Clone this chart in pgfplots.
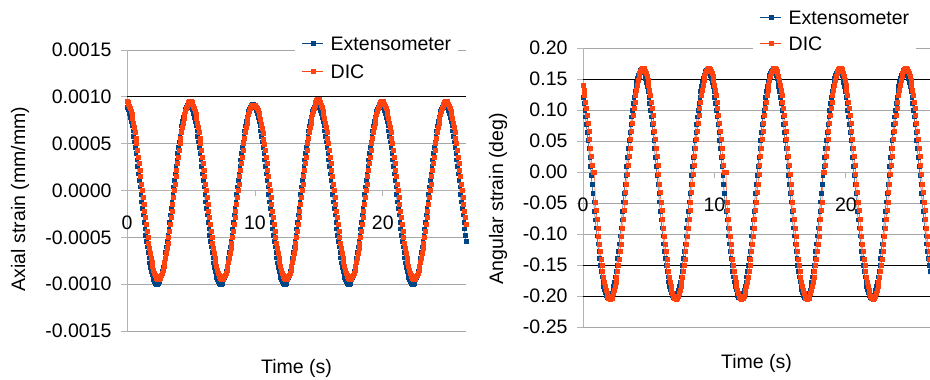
\documentclass[border=0pt]{standalone}
\usepackage{pgfplots}
\pgfplotsset{compat=1.18}
\usepackage{pgfplotstable}
\usepackage{fontspec}
\setmainfont{Liberation Sans}
\definecolor{extblue}{HTML}{004586}
\definecolor{dicor}{HTML}{FF420E}
\definecolor{gridg}{HTML}{A6A6A6}
\definecolor{axg}{HTML}{B3B3B3}
\pgfplotstableread{
t le ld re rd
0 0.00089 0.00095 0.121 0.140
0.0625 0.00087 0.00094 0.111 0.132
0.125 0.00085 0.00092 0.100 0.123
0.1875 0.00082 0.0009 0.089 0.113
0.25 0.00078 0.00088 0.077 0.103
0.3125 0.00074 0.00085 0.064 0.091
0.375 0.00069 0.00081 0.051 0.079
0.4375 0.00064 0.00077 0.038 0.066
0.5 0.00058 0.00072 0.024 0.053
0.5625 0.00052 0.00067 0.009 0.039
0.625 0.00046 0.00062 -0.005 0.025
0.6875 0.0004 0.00056 -0.020 0.011
0.75 0.00033 0.0005 -0.034 0
0.8125 0.00026 0.00043 -0.048 0
0.875 0.00018 0.00036 -0.063 0
0.9375 0.00011 0.00029 -0.077 -0.048
1 0.00004 0.00022 -0.090 -0.062
1.0625 -0.00004 0.00015 -0.103 -0.076
1.125 -0.00012 0.00007 -0.116 -0.090
1.1875 -0.00019 0 -0.128 -0.103
1.25 -0.00026 -0.00007 -0.139 -0.116
1.3125 -0.00034 -0.00015 -0.150 -0.128
1.375 -0.00041 -0.00022 -0.160 -0.140
1.4375 -0.00048 -0.00029 -0.169 -0.150
1.5 -0.00054 -0.00036 -0.177 -0.160
1.5625 -0.0006 -0.00043 -0.184 -0.169
1.625 -0.00066 -0.0005 -0.190 -0.178
1.6875 -0.00072 -0.00056 -0.195 -0.185
1.75 -0.00077 -0.00062 -0.199 -0.191
1.8125 -0.00082 -0.00067 -0.202 -0.196
1.875 -0.00086 -0.00072 -0.203 -0.200
1.9375 -0.0009 -0.00077 -0.204 -0.203
2 -0.00093 -0.00081 -0.203 -0.204
2.0625 -0.00095 -0.00085 -0.202 -0.205
2.125 -0.00097 -0.00088 -0.199 -0.204
2.1875 -0.00099 -0.0009 -0.195 -0.203
2.25 -0.001 -0.00092 -0.190 -0.200
2.3125 -0.001 -0.00094 -0.184 -0.196
2.375 -0.001 -0.00095 -0.177 -0.191
2.4375 -0.00099 -0.00095 -0.169 -0.185
2.5 -0.00097 -0.00095 -0.160 -0.178
2.5625 -0.00095 -0.00094 -0.150 -0.169
2.625 -0.00093 -0.00092 -0.139 -0.160
2.6875 -0.0009 -0.0009 -0.128 -0.150
2.75 -0.00086 -0.00088 -0.116 -0.140
2.8125 -0.00082 -0.00085 -0.103 -0.128
2.875 -0.00077 -0.00081 -0.090 -0.116
2.9375 -0.00072 -0.00077 -0.077 -0.103
3 -0.00066 -0.00072 -0.063 -0.090
3.0625 -0.0006 -0.00067 -0.048 -0.076
3.125 -0.00054 -0.00062 -0.034 -0.062
3.1875 -0.00048 -0.00056 -0.020 -0.048
3.25 -0.00041 -0.0005 -0.005 -0.033
3.3125 -0.00034 -0.00043 0.009 -0.019
3.375 -0.00026 -0.00036 0.024 -0.004
3.4375 -0.00019 -0.00029 0.038 0.011
3.5 -0.00012 -0.00022 0.051 0.025
3.5625 -0.00004 -0.00015 0.064 0.039
3.625 0.00004 -0.00007 0.077 0.053
3.6875 0.00011 0 0.089 0.066
3.75 0.00018 0.00007 0.100 0.079
3.8125 0.00026 0.00015 0.111 0.091
3.875 0.00033 0.00022 0.121 0.103
3.9375 0.0004 0.00029 0.130 0.113
4 0.00046 0.00036 0.138 0.123
4.0625 0.00052 0.00043 0.145 0.132
4.125 0.00058 0.0005 0.151 0.140
4.1875 0.00064 0.00056 0.156 0.148
4.25 0.00069 0.00062 0.160 0.154
4.3125 0.00074 0.00067 0.163 0.159
4.375 0.00078 0.00072 0.164 0.163
4.4375 0.00082 0.00077 0.165 0.166
4.5 0.00085 0.00081 0.164 0.167
4.5625 0.00087 0.00085 0.163 0.168
4.625 0.00089 0.00088 0.160 0.167
4.6875 0.00091 0.0009 0.156 0.166
4.75 0.00092 0.00092 0.151 0.163
4.8125 0.00092 0.00094 0.145 0.159
4.875 0.00092 0.00095 0.138 0.154
4.9375 0.00091 0.00095 0.130 0.148
5 0.00089 0.00095 0.121 0.140
5.0625 0.00087 0.00094 0.111 0.132
5.125 0.00085 0.00092 0.100 0.123
5.1875 0.00082 0.0009 0.089 0.113
5.25 0.00078 0.00088 0.077 0.103
5.3125 0.00074 0.00085 0.064 0.091
5.375 0.00069 0.00081 0.051 0.079
5.4375 0.00064 0.00077 0.038 0.066
5.5 0.00058 0.00072 0.024 0.053
5.5625 0.00052 0.00067 0.009 0.039
5.625 0.00046 0.00062 -0.005 0.025
5.6875 0.0004 0.00056 -0.020 0.011
5.75 0.00033 0.0005 -0.034 -0.004
5.8125 0.00026 0.00043 -0.048 -0.019
5.875 0.00018 0.00036 -0.063 -0.033
5.9375 0.00011 0.00029 -0.077 -0.048
6 0.00004 0.00022 -0.090 -0.062
6.0625 -0.00004 0.00015 -0.103 -0.076
6.125 -0.00012 0.00007 -0.116 -0.090
6.1875 -0.00019 0 -0.128 -0.103
6.25 -0.00026 -0.00007 -0.139 -0.116
6.3125 -0.00034 -0.00015 -0.150 -0.128
6.375 -0.00041 -0.00022 -0.160 -0.140
6.4375 -0.00048 -0.00029 -0.169 -0.150
6.5 -0.00054 -0.00036 -0.177 -0.160
6.5625 -0.0006 -0.00043 -0.184 -0.169
6.625 -0.00066 -0.0005 -0.190 -0.178
6.6875 -0.00072 -0.00056 -0.195 -0.185
6.75 -0.00077 -0.00062 -0.199 -0.191
6.8125 -0.00082 -0.00067 -0.202 -0.196
6.875 -0.00086 -0.00072 -0.203 -0.200
6.9375 -0.0009 -0.00077 -0.204 -0.203
7 -0.00093 -0.00081 -0.203 -0.204
7.0625 -0.00095 -0.00085 -0.202 -0.205
7.125 -0.00097 -0.00088 -0.199 -0.204
7.1875 -0.00099 -0.0009 -0.195 -0.203
7.25 -0.001 -0.00092 -0.190 -0.200
7.3125 -0.001 -0.00094 -0.184 -0.196
7.375 -0.001 -0.00095 -0.177 -0.191
7.4375 -0.00099 -0.00095 -0.169 -0.185
7.5 -0.00097 -0.00095 -0.160 -0.178
7.5625 -0.00095 -0.00094 -0.150 -0.169
7.625 -0.00093 -0.00092 -0.139 -0.160
7.6875 -0.0009 -0.0009 -0.128 -0.150
7.75 -0.00086 -0.00088 -0.116 -0.140
7.8125 -0.00082 -0.00085 -0.103 -0.128
7.875 -0.00077 -0.00081 -0.090 -0.116
7.9375 -0.00072 -0.00077 -0.077 -0.103
8 -0.00066 -0.00072 -0.063 -0.090
8.0625 -0.0006 -0.00067 -0.048 -0.076
8.125 -0.00054 -0.00062 -0.034 -0.062
8.1875 -0.00048 -0.00056 -0.020 -0.048
8.25 -0.00041 -0.0005 -0.005 -0.033
8.3125 -0.00034 -0.00043 0.009 -0.019
8.375 -0.00026 -0.00036 0.024 -0.004
8.4375 -0.00019 -0.00029 0.038 0.011
8.5 -0.00012 -0.00022 0.051 0.025
8.5625 -0.00004 -0.00015 0.064 0.039
8.625 0.00004 -0.00007 0.077 0.053
8.6875 0.00011 0 0.089 0.066
8.75 0.00018 0.00007 0.100 0.079
8.8125 0.00026 0.00015 0.111 0.091
8.875 0.00033 0.00022 0.121 0.103
8.9375 0.0004 0.00029 0.130 0.113
9 0.00046 0.00036 0.138 0.123
9.0625 0.00052 0.00043 0.145 0.132
9.125 0.00058 0.0005 0.151 0.140
9.1875 0.00064 0.00056 0.156 0.148
9.25 0.00069 0.00062 0.160 0.154
9.3125 0.00074 0.00067 0.163 0.159
9.375 0.00078 0.00072 0.164 0.163
9.4375 0.00082 0.00077 0.165 0.166
9.5 0.00085 0.00081 0.164 0.167
9.5625 0.00087 0.00085 0.163 0.168
9.625 0.00089 0.00088 0.160 0.167
9.6875 0.00091 0.0009 0.156 0.166
9.75 0.00092 0.00091 0.151 0.163
9.8125 0.00092 0.00091 0.145 0.159
9.875 0.00092 0.00091 0.138 0.154
9.9375 0.00091 0.00091 0.130 0.148
10 0.00089 0.00091 0.121 0.140
10.0625 0.00087 0.0009 0.111 0.132
10.125 0.00085 0.00089 0.100 0.123
10.1875 0.00082 0.00088 0.089 0.113
10.25 0.00078 0.00086 0.077 0.103
10.3125 0.00074 0.00083 0.064 0.091
10.375 0.00069 0.0008 0.051 0.079
10.4375 0.00064 0.00076 0.038 0.066
10.5 0.00058 0.00071 0.024 0.053
10.5625 0.00052 0.00066 0.009 0.039
10.625 0.00046 0.00061 -0.005 0.025
10.6875 0.0004 0.00055 -0.020 0.011
10.75 0.00033 0.00049 -0.034 0
10.8125 0.00026 0.00043 -0.048 0
10.875 0.00018 0.00036 -0.063 0
10.9375 0.00011 0.00029 -0.077 -0.048
11 0.00004 0.00022 -0.090 -0.062
11.0625 -0.00004 0.00015 -0.103 -0.076
11.125 -0.00012 0.00007 -0.116 -0.090
11.1875 -0.00019 0 -0.128 -0.103
11.25 -0.00026 -0.00007 -0.139 -0.116
11.3125 -0.00034 -0.00015 -0.150 -0.128
11.375 -0.00041 -0.00022 -0.160 -0.140
11.4375 -0.00048 -0.00029 -0.169 -0.150
11.5 -0.00054 -0.00036 -0.177 -0.160
11.5625 -0.0006 -0.00043 -0.184 -0.169
11.625 -0.00066 -0.0005 -0.190 -0.178
11.6875 -0.00072 -0.00056 -0.195 -0.185
11.75 -0.00077 -0.00062 -0.199 -0.191
11.8125 -0.00082 -0.00067 -0.202 -0.196
11.875 -0.00086 -0.00072 -0.203 -0.200
11.9375 -0.0009 -0.00077 -0.204 -0.203
12 -0.00093 -0.00081 -0.203 -0.204
12.0625 -0.00095 -0.00085 -0.202 -0.205
12.125 -0.00097 -0.00088 -0.199 -0.204
12.1875 -0.00099 -0.0009 -0.195 -0.203
12.25 -0.001 -0.00092 -0.190 -0.200
12.3125 -0.001 -0.00094 -0.184 -0.196
12.375 -0.001 -0.00095 -0.177 -0.191
12.4375 -0.00099 -0.00095 -0.169 -0.185
12.5 -0.00097 -0.00095 -0.160 -0.178
12.5625 -0.00095 -0.00094 -0.150 -0.169
12.625 -0.00093 -0.00092 -0.139 -0.160
12.6875 -0.0009 -0.0009 -0.128 -0.150
12.75 -0.00086 -0.00088 -0.116 -0.140
12.8125 -0.00082 -0.00085 -0.103 -0.128
12.875 -0.00077 -0.00081 -0.090 -0.116
12.9375 -0.00072 -0.00077 -0.077 -0.103
13 -0.00066 -0.00072 -0.063 -0.090
13.0625 -0.0006 -0.00067 -0.048 -0.076
13.125 -0.00054 -0.00062 -0.034 -0.062
13.1875 -0.00048 -0.00056 -0.020 -0.048
13.25 -0.00041 -0.0005 -0.005 -0.033
13.3125 -0.00034 -0.00043 0.009 -0.019
13.375 -0.00026 -0.00036 0.024 -0.004
13.4375 -0.00019 -0.00029 0.038 0.011
13.5 -0.00012 -0.00022 0.051 0.025
13.5625 -0.00004 -0.00015 0.064 0.039
13.625 0.00004 -0.00007 0.077 0.053
13.6875 0.00011 0 0.089 0.066
13.75 0.00018 0.00007 0.100 0.079
13.8125 0.00026 0.00015 0.111 0.091
13.875 0.00033 0.00022 0.121 0.103
13.9375 0.0004 0.00029 0.130 0.113
14 0.00046 0.00036 0.138 0.123
14.0625 0.00052 0.00043 0.145 0.132
14.125 0.00058 0.0005 0.151 0.140
14.1875 0.00064 0.00056 0.156 0.148
14.25 0.00069 0.00062 0.160 0.154
14.3125 0.00074 0.00067 0.163 0.159
14.375 0.00078 0.00072 0.164 0.163
14.4375 0.00082 0.00077 0.165 0.166
14.5 0.00085 0.00081 0.164 0.167
14.5625 0.00087 0.00085 0.163 0.168
14.625 0.00089 0.00088 0.160 0.167
14.6875 0.00091 0.00091 0.156 0.166
14.75 0.00092 0.00094 0.151 0.163
14.8125 0.00092 0.00096 0.145 0.159
14.875 0.00092 0.00097 0.138 0.154
14.9375 0.00091 0.00097 0.130 0.148
15 0.00089 0.00097 0.121 0.140
15.0625 0.00087 0.00096 0.111 0.132
15.125 0.00085 0.00094 0.100 0.123
15.1875 0.00082 0.00091 0.089 0.113
15.25 0.00078 0.00089 0.077 0.103
15.3125 0.00074 0.00085 0.064 0.091
15.375 0.00069 0.00081 0.051 0.079
15.4375 0.00064 0.00077 0.038 0.066
15.5 0.00058 0.00072 0.024 0.053
15.5625 0.00052 0.00067 0.009 0.039
15.625 0.00046 0.00062 -0.005 0.025
15.6875 0.0004 0.00056 -0.020 0.011
15.75 0.00033 0.0005 -0.034 -0.004
15.8125 0.00026 0.00043 -0.048 -0.019
15.875 0.00018 0.00036 -0.063 -0.033
15.9375 0.00011 0.00029 -0.077 -0.048
16 0.00004 0.00022 -0.090 -0.062
16.0625 -0.00004 0.00015 -0.103 -0.076
16.125 -0.00012 0.00007 -0.116 -0.090
16.1875 -0.00019 0 -0.128 -0.103
16.25 -0.00026 -0.00007 -0.139 -0.116
16.3125 -0.00034 -0.00015 -0.150 -0.128
16.375 -0.00041 -0.00022 -0.160 -0.140
16.4375 -0.00048 -0.00029 -0.169 -0.150
16.5 -0.00054 -0.00036 -0.177 -0.160
16.5625 -0.0006 -0.00043 -0.184 -0.169
16.625 -0.00066 -0.0005 -0.190 -0.178
16.6875 -0.00072 -0.00056 -0.195 -0.185
16.75 -0.00077 -0.00062 -0.199 -0.191
16.8125 -0.00082 -0.00067 -0.202 -0.196
16.875 -0.00086 -0.00072 -0.203 -0.200
16.9375 -0.0009 -0.00077 -0.204 -0.203
17 -0.00093 -0.00081 -0.203 -0.204
17.0625 -0.00095 -0.00085 -0.202 -0.205
17.125 -0.00097 -0.00088 -0.199 -0.204
17.1875 -0.00099 -0.0009 -0.195 -0.203
17.25 -0.001 -0.00092 -0.190 -0.200
17.3125 -0.001 -0.00094 -0.184 -0.196
17.375 -0.001 -0.00095 -0.177 -0.191
17.4375 -0.00099 -0.00095 -0.169 -0.185
17.5 -0.00097 -0.00095 -0.160 -0.178
17.5625 -0.00095 -0.00094 -0.150 -0.169
17.625 -0.00093 -0.00092 -0.139 -0.160
17.6875 -0.0009 -0.0009 -0.128 -0.150
17.75 -0.00086 -0.00088 -0.116 -0.140
17.8125 -0.00082 -0.00085 -0.103 -0.128
17.875 -0.00077 -0.00081 -0.090 -0.116
17.9375 -0.00072 -0.00077 -0.077 -0.103
18 -0.00066 -0.00072 -0.063 -0.090
18.0625 -0.0006 -0.00067 -0.048 -0.076
18.125 -0.00054 -0.00062 -0.034 -0.062
18.1875 -0.00048 -0.00056 -0.020 -0.048
18.25 -0.00041 -0.0005 -0.005 0
18.3125 -0.00034 -0.00043 0.009 0
18.375 -0.00026 -0.00036 0.024 0
18.4375 -0.00019 -0.00029 0.038 0.011
18.5 -0.00012 -0.00022 0.051 0.025
18.5625 -0.00004 -0.00015 0.064 0.039
18.625 0.00004 -0.00007 0.077 0.053
18.6875 0.00011 0 0.089 0.066
18.75 0.00018 0.00007 0.100 0.079
18.8125 0.00026 0.00015 0.111 0.091
18.875 0.00033 0.00022 0.121 0.103
18.9375 0.0004 0.00029 0.130 0.113
19 0.00046 0.00036 0.138 0.123
19.0625 0.00052 0.00043 0.145 0.132
19.125 0.00058 0.0005 0.151 0.140
19.1875 0.00064 0.00056 0.156 0.148
19.25 0.00069 0.00062 0.160 0.154
19.3125 0.00074 0.00067 0.163 0.159
19.375 0.00078 0.00072 0.164 0.163
19.4375 0.00082 0.00077 0.165 0.166
19.5 0.00085 0.00081 0.164 0.167
19.5625 0.00087 0.00085 0.163 0.168
19.625 0.00089 0.00088 0.160 0.167
19.6875 0.00091 0.0009 0.156 0.166
19.75 0.00092 0.00092 0.151 0.163
19.8125 0.00092 0.00094 0.145 0.159
19.875 0.00092 0.00095 0.138 0.154
19.9375 0.00091 0.00095 0.130 0.148
20 0.00089 0.00095 0.121 0.140
20.0625 0.00087 0.00094 0.111 0.132
20.125 0.00085 0.00092 0.100 0.123
20.1875 0.00082 0.0009 0.089 0.113
20.25 0.00078 0.00088 0.077 0.103
20.3125 0.00074 0.00085 0.064 0.091
20.375 0.00069 0.00081 0.051 0.079
20.4375 0.00064 0.00077 0.038 0.066
20.5 0.00058 0.00072 0.024 0.053
20.5625 0.00052 0.00067 0.009 0.039
20.625 0.00046 0.00062 -0.005 0.025
20.6875 0.0004 0.00056 -0.020 0.011
20.75 0.00033 0.0005 -0.034 -0.004
20.8125 0.00026 0.00043 -0.048 -0.019
20.875 0.00018 0.00036 -0.063 -0.033
20.9375 0.00011 0.00029 -0.077 -0.048
21 0.00004 0.00022 -0.090 -0.062
21.0625 -0.00004 0.00015 -0.103 -0.076
21.125 -0.00012 0.00007 -0.116 -0.090
21.1875 -0.00019 0 -0.128 -0.103
21.25 -0.00026 -0.00007 -0.139 -0.116
21.3125 -0.00034 -0.00015 -0.150 -0.128
21.375 -0.00041 -0.00022 -0.160 -0.140
21.4375 -0.00048 -0.00029 -0.169 -0.150
21.5 -0.00054 -0.00036 -0.177 -0.160
21.5625 -0.0006 -0.00043 -0.184 -0.169
21.625 -0.00066 -0.0005 -0.190 -0.178
21.6875 -0.00072 -0.00056 -0.195 -0.185
21.75 -0.00077 -0.00062 -0.199 -0.191
21.8125 -0.00082 -0.00067 -0.202 -0.196
21.875 -0.00086 -0.00072 -0.203 -0.200
21.9375 -0.0009 -0.00077 -0.204 -0.203
22 -0.00093 -0.00081 -0.203 -0.204
22.0625 -0.00095 -0.00085 -0.202 -0.205
22.125 -0.00097 -0.00088 -0.199 -0.204
22.1875 -0.00099 -0.0009 -0.195 -0.203
22.25 -0.001 -0.00092 -0.190 -0.200
22.3125 -0.001 -0.00094 -0.184 -0.196
22.375 -0.001 -0.00095 -0.177 -0.191
22.4375 -0.00099 -0.00095 -0.169 -0.185
22.5 -0.00097 -0.00095 -0.160 -0.178
22.5625 -0.00095 -0.00094 -0.150 -0.169
22.625 -0.00093 -0.00092 -0.139 -0.160
22.6875 -0.0009 -0.0009 -0.128 -0.150
22.75 -0.00086 -0.00088 -0.116 -0.140
22.8125 -0.00082 -0.00085 -0.103 -0.128
22.875 -0.00077 -0.00081 -0.090 -0.116
22.9375 -0.00072 -0.00077 -0.077 -0.103
23 -0.00066 -0.00072 -0.063 -0.090
23.0625 -0.0006 -0.00067 -0.048 -0.076
23.125 -0.00054 -0.00062 -0.034 -0.062
23.1875 -0.00048 -0.00056 -0.020 -0.048
23.25 -0.00041 -0.0005 -0.005 -0.033
23.3125 -0.00034 -0.00043 0.009 -0.019
23.375 -0.00026 -0.00036 0.024 -0.004
23.4375 -0.00019 -0.00029 0.038 0.011
23.5 -0.00012 -0.00022 0.051 0.025
23.5625 -0.00004 -0.00015 0.064 0.039
23.625 0.00004 -0.00007 0.077 0.053
23.6875 0.00011 0 0.089 0.066
23.75 0.00018 0.00007 0.100 0.079
23.8125 0.00026 0.00015 0.111 0.091
23.875 0.00033 0.00022 0.121 0.103
23.9375 0.0004 0.00029 0.130 0.113
24 0.00046 0.00036 0.138 0.123
24.0625 0.00052 0.00043 0.145 0.132
24.125 0.00058 0.0005 0.151 0.140
24.1875 0.00064 0.00056 0.156 0.148
24.25 0.00069 0.00062 0.160 0.154
24.3125 0.00074 0.00067 0.163 0.159
24.375 0.00078 0.00072 0.164 0.163
24.4375 0.00082 0.00077 0.165 0.166
24.5 0.00085 0.00081 0.164 0.167
24.5625 0.00087 0.00085 0.163 0.168
24.625 0.00089 0.00088 0.160 0.167
24.6875 0.00091 0.0009 0.156 0.166
24.75 0.00092 0.00092 0.151 0.163
24.8125 0.00092 0.00094 0.145 0.159
24.875 0.00092 0.00095 0.138 0.154
24.9375 0.00091 0.00095 0.130 0.148
25 0.00089 0.00095 0.121 0.140
25.0625 0.00087 0.00094 0.111 0.132
25.125 0.00085 0.00092 0.100 0.123
25.1875 0.00082 0.0009 0.089 0.113
25.25 0.00078 0.00088 0.077 0.103
25.3125 0.00074 0.00085 0.064 0.091
25.375 0.00069 0.00081 0.051 0.079
25.4375 0.00064 0.00077 0.038 0.066
25.5 0.00058 0.00072 0.024 0.053
25.5625 0.00052 0.00067 0.009 0.039
25.625 0.00046 0.00062 -0.005 0.025
25.6875 0.0004 0.00056 -0.020 0.011
25.75 0.00033 0.0005 -0.034 -0.004
25.8125 0.00026 0.00043 -0.048 -0.019
25.875 0.00018 0.00036 -0.063 -0.033
25.9375 0.00011 0.00029 -0.077 -0.048
26 0.00004 0.00022 -0.090 -0.062
26.0625 -0.00004 0.00015 -0.103 -0.076
26.125 -0.00012 0.00007 -0.116 -0.090
26.1875 -0.00019 0 -0.128 -0.103
26.25 -0.00026 -0.00007 -0.139 -0.116
26.3125 -0.00034 -0.00015 -0.150 -0.128
26.375 -0.00041 -0.00022 -0.160 -0.140
26.4375 -0.00048 -0.00029 -0.169 -0.150
26.5 -0.00054 -0.00036 -0.177 -0.160
}\data
\pgfplotsset{
  common/.style={
    scale only axis,
    font=\fontsize{19.6}{23}\selectfont,
    axis y line*=left, axis x line*=middle,
    x axis line style={axg,-,line width=0.8bp},
    y axis line style={axg,-,line width=0.8bp},
    hide obscured x ticks=false,
    xmin=0, xtick={0,10,20},
    tick align=outside, major tick length=6bp,
    tick style={axg,line width=0.8bp},
    ymajorgrids, grid style={gridg,line width=0.8bp},
    xticklabel style={yshift=-16bp},
    yticklabel style={xshift=-6bp},
    /pgf/number format/assume math mode=true,
    scaled y ticks=false,
    legend cell align=left,
    legend style={draw=none, fill=white, anchor=north west, inner xsep=7bp, inner ysep=8bp,
      column sep=7bp, nodes={inner sep=0pt, text height=14bp, text depth=0bp}},
    legend image code/.code={\draw[mark repeat=2,mark phase=2] plot coordinates {(0bp,0bp)(10.5bp,0bp)(21bp,0bp)};},
  },
  extsty/.style={extblue, line width=0.5bp, mark=square*, mark size=1.8bp, mark options={solid, fill=extblue, draw=none}},
  dicsty/.style={dicor, line width=0.5bp, mark=square*, mark size=2bp, mark options={solid, fill=dicor, draw=none}},
}
\begin{document}
\begin{tikzpicture}
\path[use as bounding box] (0,0) rectangle (930bp,380bp);
\begin{axis}[common,
  at={(127bp,49bp)}, anchor=south west, width=339bp, height=281bp,
  xmax=26.5, ymin=-0.0015, ymax=0.0015,
  ytick={-0.0015,-0.001,-0.0005,0,0.0005,0.001,0.0015},
  yticklabel style={/pgf/number format/.cd, fixed, fixed zerofill, precision=4},
  extra y ticks={0.001}, extra y tick labels={}, extra y tick style={grid style={black,line width=0.8bp}},
  xlabel={Time (s)}, ylabel={Axial strain (mm/mm)},
  xlabel style={at={(axis description cs:0.5,-0.132)}, anchor=center},
  ylabel style={at={(axis description cs:-0.3156,0.47)}, anchor=center},
  legend style={at={(axis description cs:0.4956,1.078)}, row sep=14.4bp},
]
\addplot[extsty] table[x=t,y=le]{\data};
\addlegendentry{Extensometer}
\addplot[dicsty] table[x=t,y=ld]{\data};
\addlegendentry{DIC}
\end{axis}
\begin{axis}[common,
  at={(583bp,53bp)}, anchor=south west, width=347bp, height=279bp,
  xmax=26.4, ymin=-0.25, ymax=0.2,
  ytick={-0.25,-0.2,-0.15,-0.1,-0.05,0,0.05,0.1,0.15,0.2},
  yticklabel style={/pgf/number format/.cd, fixed, fixed zerofill, precision=2},
  extra y ticks={0.15,-0.15,-0.2}, extra y tick labels={}, extra y tick style={grid style={black,line width=0.8bp}},
  xlabel={Time (s)}, ylabel={Angular strain (deg)},
  xlabel style={at={(axis description cs:0.5,-0.129)}, anchor=center},
  ylabel style={at={(axis description cs:-0.245,0.46)}, anchor=center},
  legend style={at={(axis description cs:0.4899,1.165)}, row sep=12bp},
]
\addplot[extsty] table[x=t,y=re]{\data};
\addlegendentry{Extensometer}
\addplot[dicsty] table[x=t,y=rd]{\data};
\addlegendentry{DIC}
\end{axis}
\end{tikzpicture}
\end{document}
